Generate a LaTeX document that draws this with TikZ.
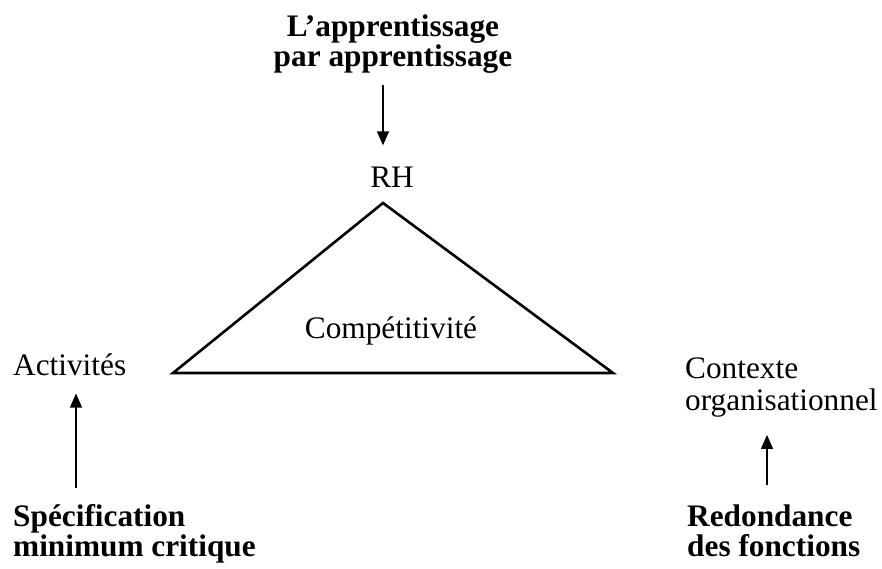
\documentclass[tikz,border=0pt]{standalone}
\usepackage{fontspec}
\setmainfont{Liberation Serif}
\usetikzlibrary{arrows.meta}
\begin{document}
\begin{tikzpicture}[x=1pt,y=-1pt,
  lbl/.style={inner sep=0pt,font=\fontsize{31.3}{32}\selectfont},
  blbl/.style={inner sep=0pt,font=\fontsize{31.3}{30}\selectfont\bfseries},
  edge/.style={line width=2.6pt,line join=miter},
  arr/.style={line width=1.4pt,-{Triangle[length=14pt,width=12pt]}}]
  \useasboundingbox (0,0) rectangle (882,569);
  % triangle corners
  \coordinate (top) at (383,203);
  \coordinate (bl) at (173,373);
  \coordinate (br) at (613,373);
  \draw[edge] (top) -- (br) -- (bl) -- cycle;
  % labels (multi-line nodes sit on the baseline of their last line)
  \node[blbl,align=center,anchor=base] (learn) at (393,67) {L’apprentissage\\par apprentissage};
  \node[lbl,anchor=base] (rh) at (392,188) {RH};
  \node[lbl,anchor=base] (comp) at (391,338) {Compétitivité};
  \node[lbl,anchor=base west] (act) at (13,375) {Activités};
  \node[lbl,align=left,anchor=base west] (ctx) at (685,410) {Contexte\\organisationnel};
  \node[blbl,align=left,anchor=base west] (spec) at (13,556) {Spécification\\minimum critique};
  \node[blbl,align=left,anchor=base west] (red) at (687,556) {Redondance\\des fonctions};
  % arrows
  \draw[arr,shorten <=11pt,shorten >=22pt] (learn.south -| top) -- (rh.north -| top);
  \draw[arr,shorten <=16pt,shorten >=18pt] (spec.north -| 76,0) -- (act.south -| 76,0);
  \draw[arr,shorten <=19pt,shorten >=18pt] (red.north -| 767,0) -- (ctx.south -| 767,0);
\end{tikzpicture}
\end{document}
